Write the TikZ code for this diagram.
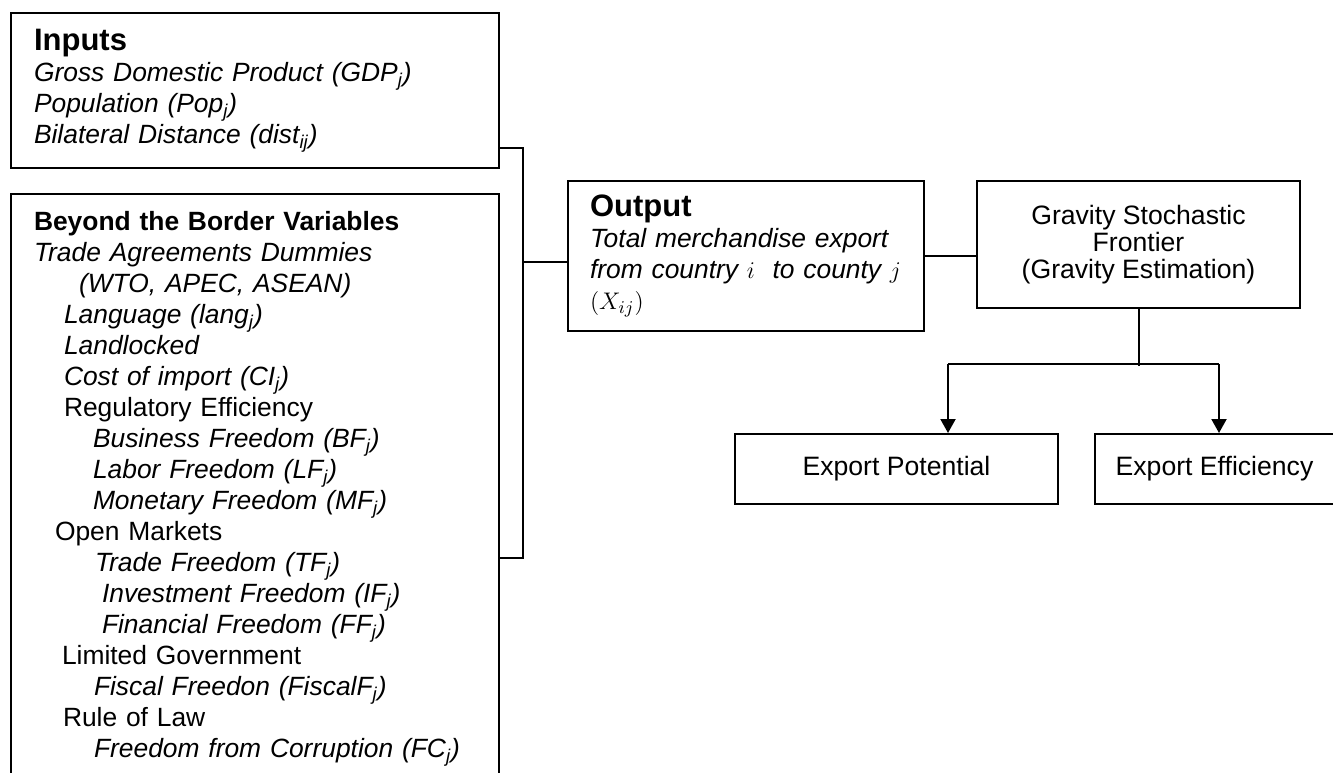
\documentclass[tikz,border=0pt]{standalone}
\usepackage{fontspec}
\setmainfont{Liberation Sans}
\usetikzlibrary{arrows.meta, positioning}

\tikzstyle{arrow} = [line width=1pt,-{Triangle[length=7pt,width=7.5pt]}]
\tikzstyle{line} = [line width=1pt]
\tikzstyle{listbox} = [rectangle, draw=black, line width=1pt, anchor=north west, align=left, inner xsep=11.5pt, font=\fontsize{13.2}{15.5}\selectfont]
\tikzstyle{centerbox} = [rectangle, draw=black, line width=1pt, align=center, font=\fontsize{13.3}{13.5}\selectfont]
\newcommand\headtxt[1]{{\fontsize{15.5}{18}\selectfont\bfseries #1}}
\newcommand\indentby[1]{\hspace*{#1}}

\begin{document}
\begin{tikzpicture}[x=0.5pt, y=-0.5pt]
\useasboundingbox (0,0) rectangle (1333,772);
%----------------------------------------------------------------------------
% Variable boxes
\node (inputs) [listbox, text width=221pt, minimum height=77.5pt] at (10,12) {\headtxt{Inputs}\\
\textit{Gross Domestic Product (GDP\textsubscript{j})}\\
\textit{Population (Pop\textsubscript{j})}\\
\textit{Bilateral Distance (dist\textsubscript{ij})}};

\node (beyond) [listbox, text width=221pt, inner ysep=8.5pt, text depth=290pt, below=12pt of inputs.south west, anchor=north west] {\textbf{Beyond the Border Variables}\\
\textit{Trade Agreements Dummies}\\
\indentby{22.5pt}\textit{(WTO, APEC, ASEAN)}\\
\indentby{15pt}\textit{Language (lang\textsubscript{j})}\\
\indentby{15pt}\textit{Landlocked}\\
\indentby{15pt}\textit{Cost of import (CI\textsubscript{j})}\\
\indentby{15pt}Regulatory Efficiency\\
\indentby{29.5pt}\textit{Business Freedom (BF\textsubscript{j})}\\
\indentby{29.5pt}\textit{Labor Freedom (LF\textsubscript{j})}\\
\indentby{29.5pt}\textit{Monetary Freedom (MF\textsubscript{j})}\\
\indentby{10.5pt}Open Markets\\
\indentby{30.5pt}\textit{Trade Freedom (TF\textsubscript{j})}\\
\indentby{34pt}\textit{Investment Freedom (IF\textsubscript{j})}\\
\indentby{34pt}\textit{Financial Freedom (FF\textsubscript{j})}\\
\indentby{14pt}Limited Government\\
\indentby{30pt}\textit{Fiscal Freedon (FiscalF\textsubscript{j})}\\
\indentby{14.5pt}Rule of Law\\
\indentby{30pt}\textit{Freedom from Corruption (FC\textsubscript{j})}};

%----------------------------------------------------------------------------
% Model boxes
\node (output) [listbox, text width=156pt, inner xsep=11pt, minimum height=75pt] at (567,180) {\headtxt{Output}\\
\textit{Total merchandise export}\\
\textit{from country $i$ \ to county $j$}\\
$(X_{ij})$};
\node (gravity) [centerbox, minimum width=161.5pt, minimum height=63.5pt, right=25.5pt of output.north east, anchor=north west] {Gravity Stochastic\\ Frontier\\ (Gravity Estimation)};

\node (potential) [centerbox, minimum width=161.5pt, minimum height=35pt, anchor=north west] at (734,433) {Export Potential};
\node (efficiency) [centerbox, minimum width=119.5pt, minimum height=35pt, right=17.5pt of potential] {Export Efficiency};

%----------------------------------------------------------------------------
% Draw lines
\coordinate (join) at (523,262);
\draw [line] ([yshift=10.5pt]inputs.south east) -| (join);
\draw [line] ([yshift=-182.5pt]beyond.north east) -| (join);
\draw [line] (join) -- (join -| output.west);
\draw [line] (output.east) -- (output.east -| gravity.west);

\coordinate (fork) at ([yshift=-28.5pt]gravity.south);
\coordinate (forkL) at (948,364);
\coordinate (forkR) at (1219,364);
\draw [line] (gravity.south) -- (fork);
\draw [line] (forkL) -- (forkR);
\draw [arrow] (forkL) -- (forkL |- potential.north);
\draw [arrow] (forkR) -- (forkR |- efficiency.north);

\end{tikzpicture}
\end{document}
